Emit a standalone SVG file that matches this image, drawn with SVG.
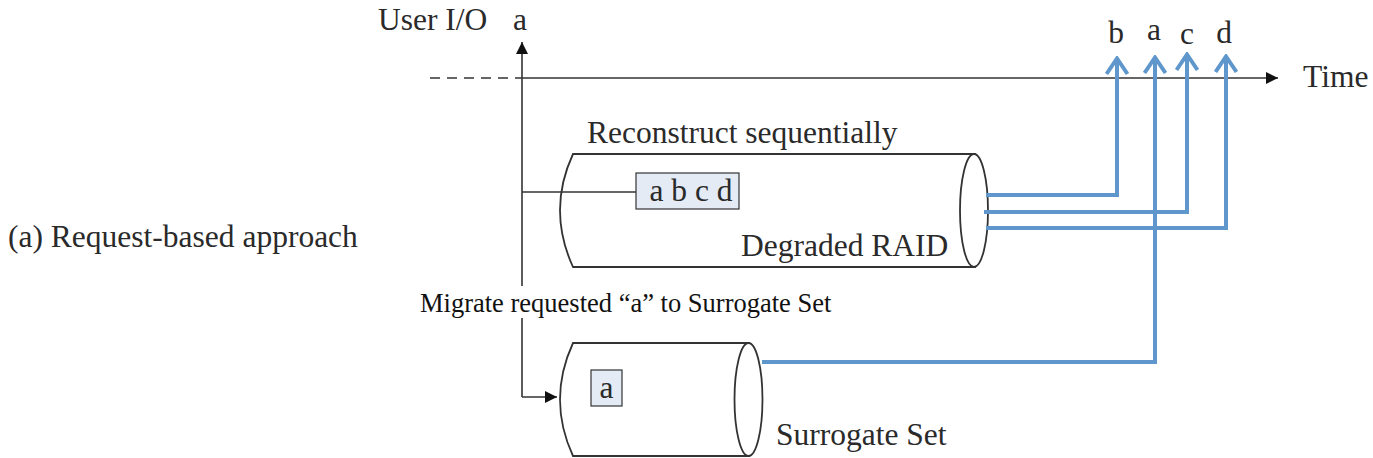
<svg xmlns="http://www.w3.org/2000/svg" width="1373" height="458" viewBox="0 0 1373 458">
<style>
text{font-family:'Liberation Serif','DejaVu Serif',serif;fill:#2a2a2a}
.lbl{font-size:31.5px}
.ln{fill:none;stroke:#333;stroke-width:1.6}
.cyl{fill:#fff;stroke:#333;stroke-width:1.8}
.box{fill:#e4ebf5;stroke:#333;stroke-width:1.2}
.blue{fill:none;stroke:#5f97cc;stroke-width:4}
</style>
<defs>
<marker id="tri" viewBox="0 0 10 10" refX="10" refY="5" markerWidth="14" markerHeight="12" markerUnits="userSpaceOnUse" orient="auto">
<path d="M0,0 L10,5 L0,10 Z" fill="#111"/>
</marker>
<marker id="chev" viewBox="0 0 24 20" refX="12" refY="2" markerWidth="24" markerHeight="20" markerUnits="userSpaceOnUse" orient="0">
<path d="M1.5,18 L12,2.5 L22.5,18" fill="none" stroke="#5f97cc" stroke-width="4" stroke-linejoin="miter"/>
</marker>
</defs>

<g id="caption"><text class="lbl" x="8" y="247">(a) Request-based approach</text></g>

<g id="time-axis">
<line class="ln" x1="430" y1="78" x2="520" y2="78" stroke-dasharray="10,7"/>
<line class="ln" x1="520" y1="78" x2="1278" y2="78" marker-end="url(#tri)"/>
<text class="lbl" x="1303" y="87">Time</text>
</g>

<g id="user-io">
<text class="lbl" x="378" y="30">User I/O</text>
<text class="lbl" x="513" y="30">a</text>
</g>

<g id="degraded-raid">
<path class="cyl" d="M573,154 L975,154 L975,267 L573,267 Q547,210 573,154 Z"/>
<ellipse class="cyl" cx="974" cy="210.5" rx="14" ry="56.5"/>
<text class="lbl" x="587" y="143">Reconstruct sequentially</text>
<text class="lbl" x="741" y="256">Degraded RAID</text>
</g>

<g id="surrogate-set">
<path class="cyl" d="M573,343 L749,343 L749,456 L573,456 Q547,399.5 573,343 Z"/>
<ellipse class="cyl" cx="748.5" cy="399.5" rx="14" ry="56.5"/>
<text class="lbl" x="776" y="445">Surrogate Set</text>
</g>

<g id="box-abcd">
<rect class="box" x="636" y="173" width="103" height="36"/>
<text class="lbl" x="691" y="201" text-anchor="middle">a b c d</text>
</g>

<g id="box-a">
<rect class="box" x="591" y="370" width="31" height="36"/>
<text class="lbl" x="606.5" y="398" text-anchor="middle">a</text>
</g>

<g id="labels-top">
<text class="lbl" x="1116" y="43" text-anchor="middle">b</text>
<text class="lbl" x="1154" y="40" text-anchor="middle">a</text>
<text class="lbl" x="1187" y="44" text-anchor="middle">c</text>
<text class="lbl" x="1224" y="43" text-anchor="middle">d</text>
</g>

<g id="connectors">
<line class="ln" x1="522" y1="397" x2="522" y2="42" marker-end="url(#tri)"/>
<line class="ln" x1="522" y1="192" x2="636" y2="192"/>
<line class="ln" x1="522" y1="397" x2="557" y2="397" marker-end="url(#tri)"/>
<polyline class="blue" points="986,195 1117,195 1117,58" marker-end="url(#chev)"/>
<polyline class="blue" points="984,212 1187,212 1187,54" marker-end="url(#chev)"/>
<polyline class="blue" points="986,228 1226,228 1226,56" marker-end="url(#chev)"/>
<polyline class="blue" points="762,362 1155,362 1155,57" marker-end="url(#chev)"/>
</g>

<g id="migrate-label">
<rect x="418" y="286" width="416" height="32" fill="#fff"/>
<text x="420" y="312" font-size="26.5" style="fill:#111">Migrate requested “a” to Surrogate Set</text>
</g>
</svg>
